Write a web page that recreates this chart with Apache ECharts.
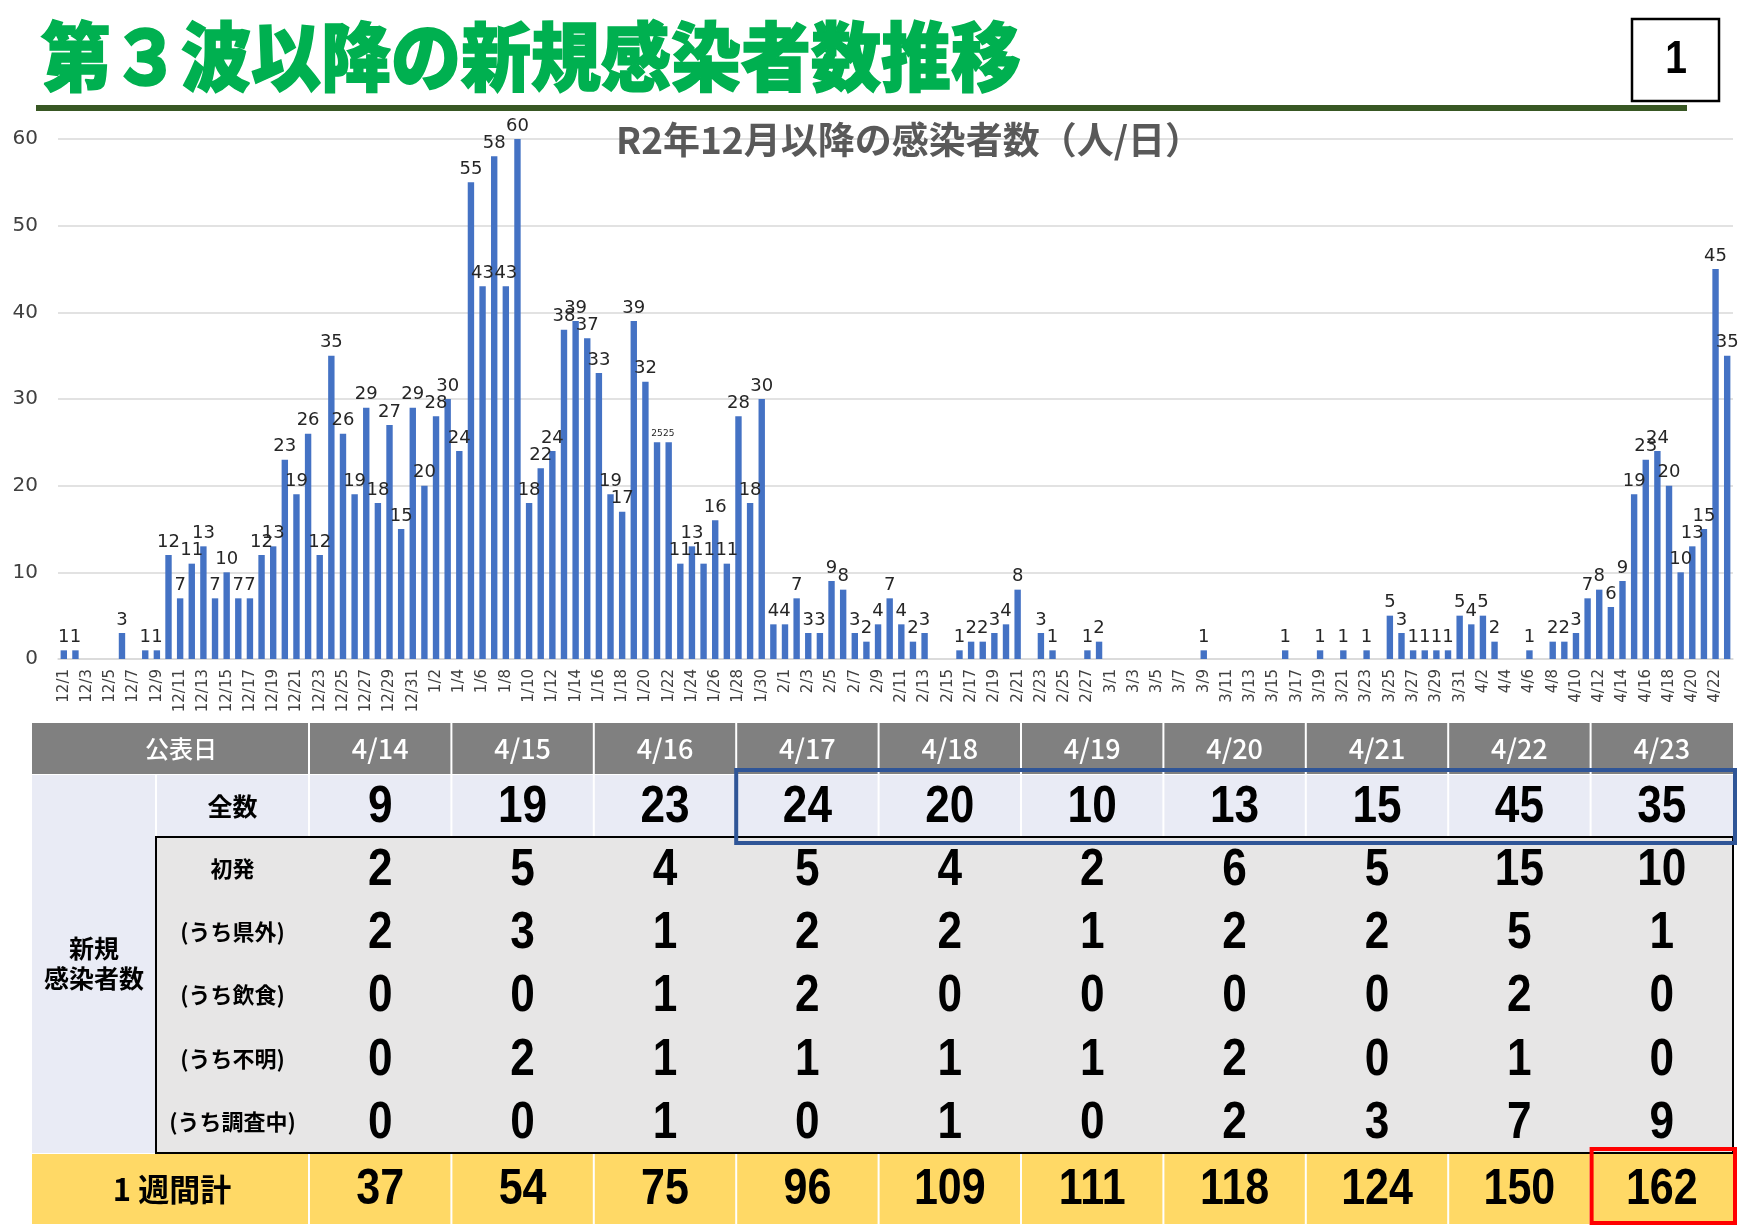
<!DOCTYPE html>
<html><head><meta charset="utf-8">
<script src="https://cdn.jsdelivr.net/npm/echarts@6/dist/echarts.min.js"></script>
<style>html,body{margin:0;padding:0;background:#fff}#c{width:1754px;height:1228px}</style>
</head><body><div id="c"></div>
<script>
// ---- chart data (daily new cases, R2/12/1 - R3/4/23) ----
const monthDays = [[12, 31], [1, 31], [2, 28], [3, 31], [4, 23]];
const decCases = [1,1,0,0,0,3,0,1,1,12,7,11,13,7,10,7,7,12,13,23,19,26,12,35,26,19,29,18,27,15,29];
const janCases = [20,28,30,24,55,43,58,43,60,18,22,24,38,39,37,33,19,17,39,32,25,25,11,13,11,16,11,28,18,30,4];
const febCases = [4,7,3,3,9,8,3,2,4,7,4,2,3,0,0,1,2,2,3,4,8,0,3,1,0,0,1,2];
const marCases = [0,0,0,0,0,0,0,0,1,0,0,0,0,0,0,1,0,0,1,0,1,0,1,0,5,3,1,1,1,1,5];
const aprCases = [4,5,2,0,0,1,0,2,2,3,7,8,6,9,19,23,24,20,10,13,15,45,35];
const yTicks = [0, 10, 20, 30, 40, 50, 60];
const smallLabelDays = ['1/21', '1/22'];

// ---- table data ----
const tableDates = ['4/14','4/15','4/16','4/17','4/18','4/19','4/20','4/21','4/22','4/23'];
const totalRow = [9,19,23,24,20,10,13,15,45,35];
const firstRow = [2,5,4,5,4,2,6,5,15,10];
const outOfPrefRow = [2,3,1,2,2,1,2,2,5,1];
const diningRow = [0,0,1,2,0,0,0,0,2,0];
const unknownRow = [0,2,1,1,1,1,2,0,1,0];
const investigatingRow = [0,0,1,0,1,0,2,3,7,9];
const weeklyRow = [37,54,75,96,109,111,118,124,150,162];
const subRowLabels = ['初発', '(うち県外)', '(うち飲食)', '(うち不明)', '(うち調査中)'];
const subRows = [firstRow, outOfPrefRow, diningRow, unknownRow, investigatingRow];

const categories = [];
monthDays.forEach(([m, n]) => { for (let d = 1; d <= n; d++) categories.push(m + '/' + d); });
const dailyCases = [].concat(decCases, janCases, febCases, marCases, aprCases);
const barData = dailyCases.map((v, i) =>
  smallLabelDays.includes(categories[i]) ? { value: v, label: { fontSize: 9 } } : v);

const CJK = '"Noto Sans CJK JP", sans-serif';
const NUM = '"Liberation Sans", Arial, sans-serif';

function txt(x, y, text, size, opts) {
  opts = opts || {};
  const el = {
    type: 'text', x: x, y: y, z: opts.z || 10,
    style: {
      text: text, fill: opts.fill || '#000',
      fontSize: size, fontFamily: opts.family || CJK, fontWeight: opts.weight || 'bold',
      align: opts.align || 'center', verticalAlign: 'middle',
      textAlign: opts.align || 'center', textVerticalAlign: 'middle'
    }
  };
  if (opts.sx) el.scaleX = opts.sx;
  if (opts.sy) el.scaleY = opts.sy;
  if (opts.stroke) { el.style.stroke = opts.stroke; el.style.lineWidth = opts.lw || 1; }
  return el;
}
function rect(x, y, w, h, style, z) {
  return { type: 'rect', shape: { x: x, y: y, width: w, height: h }, style: style, z: z || 1 };
}

// ---- table layout ----
const L = 32, R = 1733, C1 = 156, C2 = 309;
const colW = (R - C2) / tableDates.length;
const yHead = 723, hHead = 51;
const yTot = 775, hTot = 62;
const ySub = 837, hSub = 63.2;
const yWeek = ySub + 5 * hSub, hWeek = 70;

const g = [];
// title
g.push(txt(41, 57, '第３波以降の新規感染者数推移', 70, { fill: '#00b050', weight: 900, align: 'left', sy: 1.07, stroke: '#00b050', lw: 1.5 }));
g.push(rect(36, 105, 1651, 6, { fill: '#385723' }));
g.push(rect(1632, 19, 87, 82, { fill: '#fff', stroke: '#000', lineWidth: 2.5 }));
g.push(txt(1676, 60, '1', 46, { family: NUM, sx: 0.85 }));
// chart title
g.push(txt(909, 140, 'R2年12月以降の感染者数（人/日）', 37, { fill: '#595959' }));

// table backgrounds
g.push(rect(L, yHead, R - L, hHead, { fill: '#808080' }));
g.push(rect(L, yTot, R - L, hTot, { fill: '#e9ebf5' }));
g.push(rect(L, yTot, C1 - L, yWeek - yTot, { fill: '#e9ebf5' }));
g.push(rect(C1, ySub, R - C1, yWeek - ySub, { fill: '#e7e6e6' }));
g.push(rect(L, yWeek + 1, R - L, hWeek, { fill: '#ffd966' }));
// white separators
for (let i = 0; i < tableDates.length; i++) {
  const x = C2 + i * colW;
  g.push(rect(x - 1, yHead, 2, hHead, { fill: '#fff' }, 2));
  g.push(rect(x - 1, yTot, 2, hTot, { fill: '#fff' }, 2));
  g.push(rect(x - 1, yWeek, 2, hWeek + 1, { fill: '#fff' }, 2));
}
g.push(rect(C1 - 1, yTot, 2, hTot, { fill: '#fff' }, 2));
// black border around sub rows
g.push(rect(C1, ySub, R - C1, yWeek - ySub, { fill: 'none', stroke: '#000', lineWidth: 2 }, 3));
// highlight boxes
g.push(rect(C2 + 3 * colW, 770, R + 2 - (C2 + 3 * colW), 73, { fill: 'none', stroke: '#2f5597', lineWidth: 4 }, 5));
g.push(rect(C2 + 9 * colW + 1, 1149, R + 2 - (C2 + 9 * colW + 1), 74, { fill: 'none', stroke: '#ff0000', lineWidth: 4 }, 5));

// header text
g.push(txt(181, yHead + hHead / 2, '公表日', 24, { fill: '#fff', weight: 500 }));
tableDates.forEach((d, i) => g.push(txt(C2 + (i + 0.5) * colW, yHead + hHead / 2, d, 27, { fill: '#fff', weight: 500 })));
// total row
g.push(txt((C1 + C2) / 2, yTot + hTot / 2, '全数', 25));
totalRow.forEach((v, i) => g.push(txt(C2 + (i + 0.5) * colW, yTot + hTot / 2 + 2, String(v), 52, { family: NUM, sx: 0.85 })));
// group label
g.push(txt((L + C1) / 2, 948, '新規', 25));
g.push(txt((L + C1) / 2, 978, '感染者数', 25));
// sub rows
subRows.forEach((row, r) => {
  const cy = ySub + (r + 0.5) * hSub;
  g.push(txt((C1 + C2) / 2, cy, subRowLabels[r], 22));
  row.forEach((v, i) => g.push(txt(C2 + (i + 0.5) * colW, cy + 2, String(v), 52, { family: NUM, sx: 0.85 })));
});
// weekly row
g.push(txt(172, yWeek + hWeek / 2 + 1, '1 週間計', 31));
weeklyRow.forEach((v, i) => g.push(txt(C2 + (i + 0.5) * colW, yWeek + hWeek / 2 + 2, String(v), 50, { family: NUM, sx: 0.86 })));

const chart = echarts.init(document.getElementById('c'), null, { renderer: 'canvas' });
chart.setOption({
  backgroundColor: '#fff',
  animation: false,
  grid: { left: 58, right: 21, top: 139, bottom: 569, containLabel: false },
  xAxis: {
    type: 'category', data: categories,
    axisTick: { show: false },
    axisLine: { lineStyle: { color: '#d9d9d9', width: 1.5 } },
    axisLabel: { rotate: 90, interval: 1, fontSize: 15, color: '#404040', fontFamily: 'DejaVu Sans', margin: 10 }
  },
  yAxis: {
    type: 'value', min: yTicks[0], max: yTicks[yTicks.length - 1], interval: 10,
    axisLabel: { fontSize: 20, color: '#404040', fontFamily: 'DejaVu Sans', margin: 20 },
    axisLine: { show: false }, axisTick: { show: false },
    splitLine: { lineStyle: { color: '#d9d9d9', width: 1.5 } }
  },
  series: [{
    type: 'bar', data: barData, barWidth: '55%',
    itemStyle: { color: '#4472c4' },
    label: {
      show: true, position: 'top', distance: 4, fontSize: 18, color: '#262626', fontFamily: 'DejaVu Sans',
      formatter: p => (p.value === 0 ? '' : String(p.value))
    }
  }],
  graphic: { elements: g }
});
</script></body></html>
